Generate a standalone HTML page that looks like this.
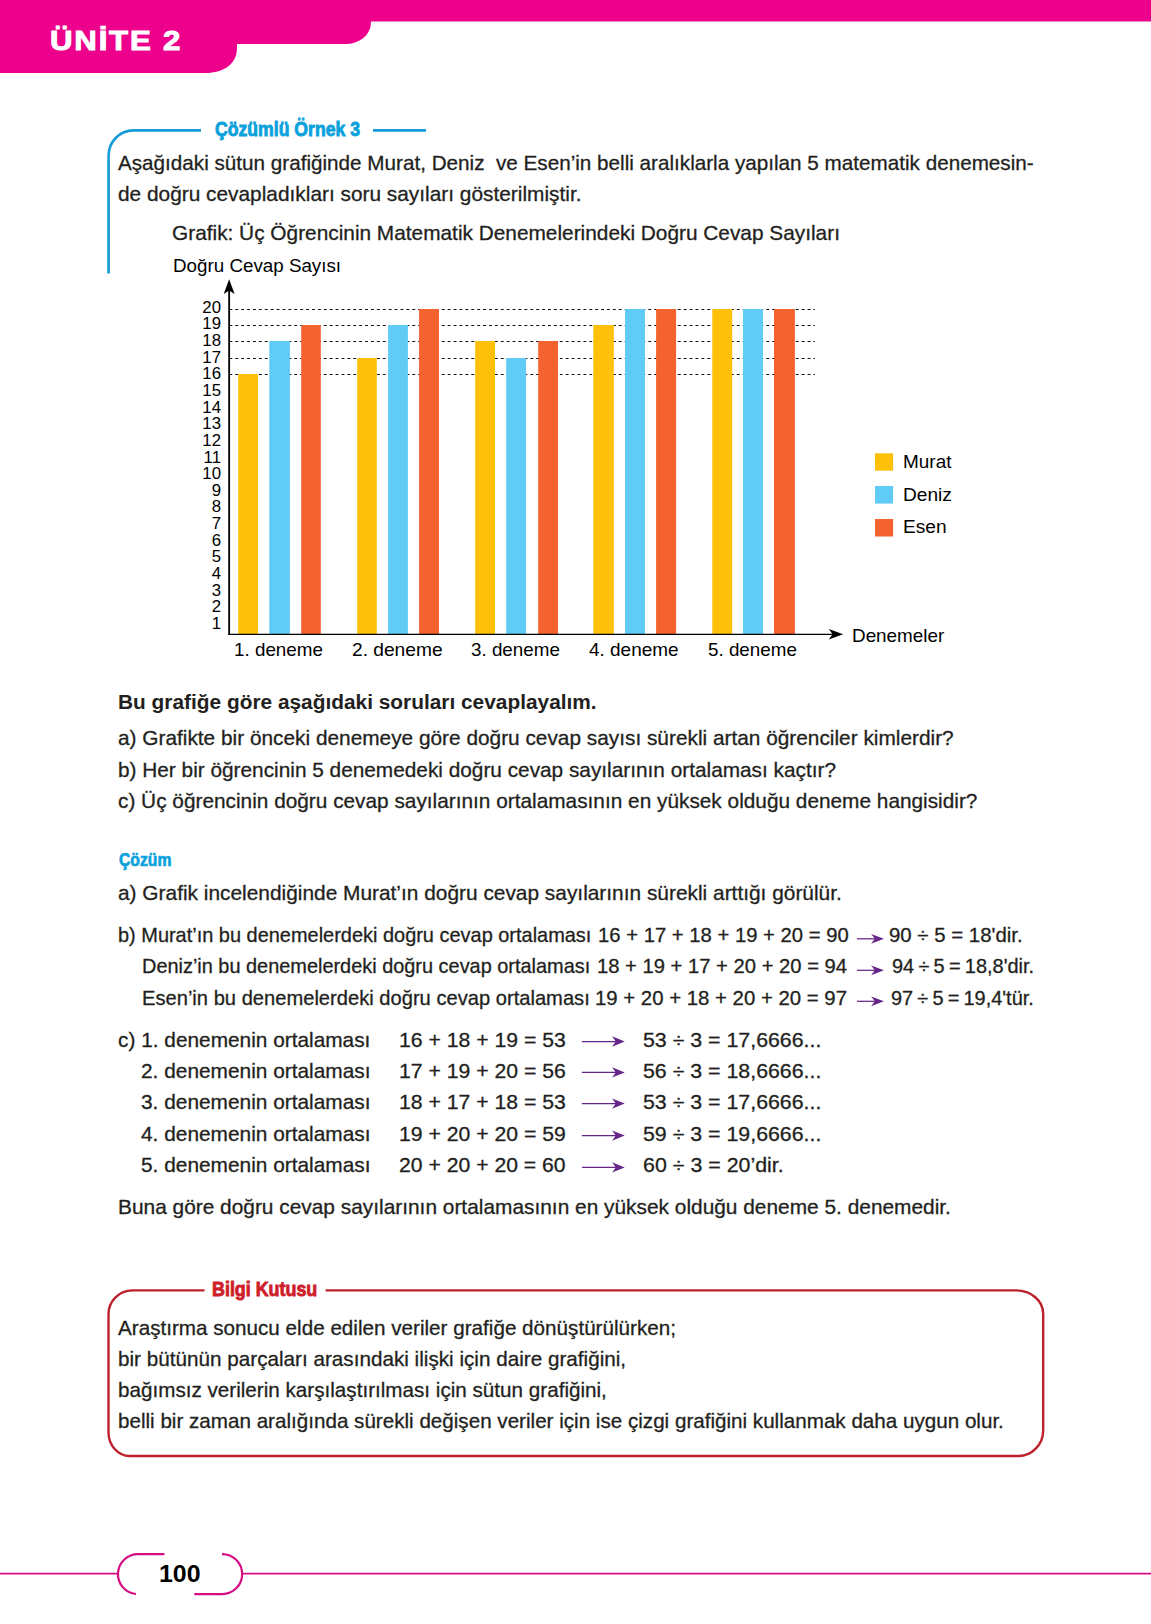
<!DOCTYPE html>
<html lang="tr">
<head>
<meta charset="utf-8">
<title>Ünite 2 - Çözümlü Örnek 3</title>
<style>
html,body{margin:0;padding:0;background:#fff;}
body{font-family:"Liberation Sans",Arial,Helvetica,sans-serif;}
.t{position:absolute;white-space:pre;line-height:1;transform-origin:0 0;margin:0;padding:0;}
body{width:1151px;height:1624px;position:relative;overflow:hidden;color:#231f20;}
#page{position:absolute;left:0;top:0;width:1151px;height:1624px;overflow:hidden;background:#fff;}
svg.art{position:absolute;left:0;top:0;width:1151px;height:1624px;}
.yl{position:absolute;white-space:pre;line-height:1;font-size:16px;color:#000;width:30px;text-align:right;left:190.9px;transform-origin:100% 0;transform:scaleX(1.05);}
</style>
</head>
<body>
<div id="page">
<svg class="art" width="1151" height="1624" viewBox="0 0 1151 1624">
<path d="M0,0 H1151 V21.4 H371 C371,35 360,44 344,44 H237 V48 C237,63 225,73 205,73 H0 Z" fill="#ec008c"/>
<path d="M108.6,273.6 V155.4 A25,25 0 0 1 133.6,130.4 H201" fill="none" stroke="#149bd7" stroke-width="2.6"/>
<path d="M373,130.4 H426" fill="none" stroke="#149bd7" stroke-width="2.6"/>
<path d="M229.4,309.5 H815" stroke="#000" stroke-width="0.95" stroke-dasharray="2.9 3" fill="none"/>
<path d="M229.4,325.5 H815" stroke="#000" stroke-width="0.95" stroke-dasharray="2.9 3" fill="none"/>
<path d="M229.4,341.5 H815" stroke="#000" stroke-width="0.95" stroke-dasharray="2.9 3" fill="none"/>
<path d="M229.4,358.5 H815" stroke="#000" stroke-width="0.95" stroke-dasharray="2.9 3" fill="none"/>
<path d="M229.4,374.5 H815" stroke="#000" stroke-width="0.95" stroke-dasharray="2.9 3" fill="none"/>
<rect x="238.2" y="374.0" width="19.8" height="260.2" fill="#fec008"/>
<rect x="269.3" y="341.0" width="20.6" height="293.2" fill="#60cbf4"/>
<rect x="301.2" y="325.0" width="19.6" height="309.2" fill="#f3622f"/>
<rect x="357.2" y="358.0" width="19.6" height="276.2" fill="#fec008"/>
<rect x="388.1" y="325.0" width="19.8" height="309.2" fill="#60cbf4"/>
<rect x="419.1" y="309.0" width="19.9" height="325.2" fill="#f3622f"/>
<rect x="475.2" y="341.0" width="19.8" height="293.2" fill="#fec008"/>
<rect x="506.2" y="358.0" width="19.8" height="276.2" fill="#60cbf4"/>
<rect x="538.2" y="341.0" width="19.8" height="293.2" fill="#f3622f"/>
<rect x="593.3" y="325.0" width="20.5" height="309.2" fill="#fec008"/>
<rect x="625" y="309.0" width="20.0" height="325.2" fill="#60cbf4"/>
<rect x="656.1" y="309.0" width="20.0" height="325.2" fill="#f3622f"/>
<rect x="712.3" y="309.0" width="19.9" height="325.2" fill="#fec008"/>
<rect x="743" y="309.0" width="20.0" height="325.2" fill="#60cbf4"/>
<rect x="774" y="309.0" width="20.9" height="325.2" fill="#f3622f"/>
<path d="M229.15,290 V634.9" fill="none" stroke="#000" stroke-width="1.8"/>
<path d="M228.15,634.3 H833" fill="none" stroke="#000" stroke-width="1.25"/>
<path d="M229.15,279.3 L234.6,294 L229.15,290.6 L223.7,294 Z" fill="#000"/>
<path d="M843.1,634.3 L828.8,639.6 L832.6,634.3 L828.8,629 Z" fill="#000"/>
<rect x="875" y="453.3" width="18.1" height="17.4" fill="#fec008"/>
<rect x="875" y="486" width="18.1" height="17.6" fill="#60cbf4"/>
<rect x="875" y="519" width="18.1" height="17.5" fill="#f3622f"/>
<path d="M857,938.8 H875.4" stroke="#652589" stroke-width="1.25" fill="none"/><path d="M883.9,938.8 L871.1,933.9 L874.9,938.8 L871.1,943.7 Z" fill="#652589"/>
<path d="M857,970.3 H875.4" stroke="#652589" stroke-width="1.25" fill="none"/><path d="M883.9,970.3 L871.1,965.4 L874.9,970.3 L871.1,975.2 Z" fill="#652589"/>
<path d="M857,1001.3 H875.4" stroke="#652589" stroke-width="1.25" fill="none"/><path d="M883.9,1001.3 L871.1,996.4 L874.9,1001.3 L871.1,1006.2 Z" fill="#652589"/>
<path d="M581.9,1041.5 H616.3" stroke="#652589" stroke-width="1.25" fill="none"/><path d="M624.7,1041.5 L612.1,1036.3 L615.8,1041.5 L612.1,1046.7 Z" fill="#652589"/>
<path d="M581.9,1072.4 H616.3" stroke="#652589" stroke-width="1.25" fill="none"/><path d="M624.7,1072.4 L612.1,1067.2 L615.8,1072.4 L612.1,1077.6 Z" fill="#652589"/>
<path d="M581.9,1103.6 H616.3" stroke="#652589" stroke-width="1.25" fill="none"/><path d="M624.7,1103.6 L612.1,1098.4 L615.8,1103.6 L612.1,1108.8 Z" fill="#652589"/>
<path d="M581.9,1135.6 H616.3" stroke="#652589" stroke-width="1.25" fill="none"/><path d="M624.7,1135.6 L612.1,1130.4 L615.8,1135.6 L612.1,1140.8 Z" fill="#652589"/>
<path d="M581.9,1167.4 H616.3" stroke="#652589" stroke-width="1.25" fill="none"/><path d="M624.7,1167.4 L612.1,1162.2 L615.8,1167.4 L612.1,1172.6 Z" fill="#652589"/>
<path d="M204.5,1290.4 H132.5 A24,23.6 0 0 0 108.5,1314 V1432.3 A21,23.7 0 0 0 129.5,1456 H1018.6 A24.6,25.8 0 0 0 1043.2,1430.2 V1313.8 A27,23.4 0 0 0 1016.2,1290.4 H325.6" fill="none" stroke="#bd222c" stroke-width="2.4"/>
<path d="M0,1573.6 H118.1 M242.6,1573.6 H1151" stroke="#d40d84" stroke-width="1.8" fill="none"/>
<path d="M164.4,1554.1 H138.3 A20.0,20.0 0 0 0 136,1594" stroke="#d40d84" stroke-width="2.2" fill="none"/>
<path d="M222,1554.1 A20.0,20.0 0 0 1 222.4,1594.1 H194.3" stroke="#d40d84" stroke-width="2.2" fill="none"/>
</svg>
<div class="yl" style="top:616px">1</div>
<div class="yl" style="top:599px">2</div>
<div class="yl" style="top:583px">3</div>
<div class="yl" style="top:566px">4</div>
<div class="yl" style="top:549px">5</div>
<div class="yl" style="top:533px">6</div>
<div class="yl" style="top:516px">7</div>
<div class="yl" style="top:499px">8</div>
<div class="yl" style="top:483px">9</div>
<div class="yl" style="top:466px">10</div>
<div class="yl" style="top:450px">11</div>
<div class="yl" style="top:433px">12</div>
<div class="yl" style="top:416px">13</div>
<div class="yl" style="top:400px">14</div>
<div class="yl" style="top:383px">15</div>
<div class="yl" style="top:366px">16</div>
<div class="yl" style="top:350px">17</div>
<div class="yl" style="top:333px">18</div>
<div class="yl" style="top:316px">19</div>
<div class="yl" style="top:300px">20</div>
<div class="t" style="left:50.15px;top:27.00px;font-size:28.0px;color:#ffffff;font-weight:bold;-webkit-text-stroke:1.0px #ffffff;letter-spacing:1.6px;transform:scaleX(1.1144);">ÜNİTE 2</div>
<div class="t" style="left:214.75px;top:120.12px;font-size:19.7px;color:#0aa1dc;font-weight:bold;-webkit-text-stroke:0.85px #0aa1dc;transform:scaleX(0.8957);">Çözümlü Örnek 3</div>
<div class="t" style="left:117.90px;top:153.11px;font-size:20.9px;color:#231f20;-webkit-text-stroke:0.3px #231f20;transform:scaleX(0.9894);">Aşağıdaki sütun grafiğinde Murat, Deniz  ve Esen’in belli aralıklarla yapılan 5 matematik denemesin-</div>
<div class="t" style="left:117.90px;top:183.51px;font-size:20.9px;color:#231f20;-webkit-text-stroke:0.3px #231f20;transform:scaleX(0.9979);">de doğru cevapladıkları soru sayıları gösterilmiştir.</div>
<div class="t" style="left:172.00px;top:222.61px;font-size:20.9px;color:#231f20;-webkit-text-stroke:0.3px #231f20;transform:scaleX(0.9970);">Grafik: Üç Öğrencinin Matematik Denemelerindeki Doğru Cevap Sayıları</div>
<div class="t" style="left:117.90px;top:692.31px;font-size:20.9px;color:#231f20;font-weight:bold;transform:scaleX(0.9982);">Bu grafiğe göre aşağıdaki soruları cevaplayalım.</div>
<div class="t" style="left:117.90px;top:727.81px;font-size:20.9px;color:#231f20;-webkit-text-stroke:0.3px #231f20;transform:scaleX(0.9968);">a) Grafikte bir önceki denemeye göre doğru cevap sayısı sürekli artan öğrenciler kimlerdir?</div>
<div class="t" style="left:117.90px;top:760.01px;font-size:20.9px;color:#231f20;-webkit-text-stroke:0.3px #231f20;transform:scaleX(0.9957);">b) Her bir öğrencinin 5 denemedeki doğru cevap sayılarının ortalaması kaçtır?</div>
<div class="t" style="left:117.90px;top:791.31px;font-size:20.9px;color:#231f20;-webkit-text-stroke:0.3px #231f20;transform:scaleX(0.9961);">c) Üç öğrencinin doğru cevap sayılarının ortalamasının en yüksek olduğu deneme hangisidir?</div>
<div class="t" style="left:118.75px;top:849.75px;font-size:19.2px;color:#0aa1dc;font-weight:bold;-webkit-text-stroke:0.7px #0aa1dc;transform:scaleX(0.8192);">Çözüm</div>
<div class="t" style="left:117.90px;top:882.81px;font-size:20.9px;color:#231f20;-webkit-text-stroke:0.3px #231f20;transform:scaleX(0.9989);">a) Grafik incelendiğinde Murat’ın doğru cevap sayılarının sürekli arttığı görülür.</div>
<div class="t" style="left:117.90px;top:924.51px;font-size:20.9px;color:#231f20;-webkit-text-stroke:0.3px #231f20;transform:scaleX(0.9547);">b) Murat’ın bu denemelerdeki doğru cevap ortalaması</div>
<div class="t" style="left:598.30px;top:924.51px;font-size:20.9px;color:#231f20;-webkit-text-stroke:0.3px #231f20;transform:scaleX(0.9699);">16 + 17 + 18 + 19 + 20 = 90</div>
<div class="t" style="left:889.45px;top:924.51px;font-size:20.9px;color:#231f20;-webkit-text-stroke:0.3px #231f20;transform:scaleX(0.9769);">90 ÷ 5 = 18'dir.</div>
<div class="t" style="left:141.50px;top:955.71px;font-size:20.9px;color:#231f20;-webkit-text-stroke:0.3px #231f20;transform:scaleX(0.9530);">Deniz’in bu denemelerdeki doğru cevap ortalaması</div>
<div class="t" style="left:596.70px;top:955.71px;font-size:20.9px;color:#231f20;-webkit-text-stroke:0.3px #231f20;transform:scaleX(0.9674);">18 + 19 + 17 + 20 + 20 = 94</div>
<div class="t" style="left:891.75px;top:955.71px;font-size:20.9px;color:#231f20;-webkit-text-stroke:0.3px #231f20;word-spacing:-1.374px;transform:scaleX(0.9550);">94 ÷ 5 = 18,8'dir.</div>
<div class="t" style="left:141.50px;top:988.01px;font-size:20.9px;color:#231f20;-webkit-text-stroke:0.3px #231f20;transform:scaleX(0.9639);">Esen’in bu denemelerdeki doğru cevap ortalaması</div>
<div class="t" style="left:595.40px;top:988.01px;font-size:20.9px;color:#231f20;-webkit-text-stroke:0.3px #231f20;transform:scaleX(0.9751);">19 + 20 + 18 + 20 + 20 = 97</div>
<div class="t" style="left:890.95px;top:988.01px;font-size:20.9px;color:#231f20;-webkit-text-stroke:0.3px #231f20;word-spacing:-1.466px;transform:scaleX(0.9550);">97 ÷ 5 = 19,4'tür.</div>
<div class="t" style="left:117.90px;top:1029.91px;font-size:20.9px;color:#231f20;-webkit-text-stroke:0.3px #231f20;transform:scaleX(0.9970);">c) 1. denemenin ortalaması</div>
<div class="t" style="left:140.70px;top:1061.21px;font-size:20.9px;color:#231f20;-webkit-text-stroke:0.3px #231f20;transform:scaleX(0.9982);">2. denemenin ortalaması</div>
<div class="t" style="left:140.70px;top:1091.61px;font-size:20.9px;color:#231f20;-webkit-text-stroke:0.3px #231f20;transform:scaleX(0.9982);">3. denemenin ortalaması</div>
<div class="t" style="left:140.70px;top:1124.31px;font-size:20.9px;color:#231f20;-webkit-text-stroke:0.3px #231f20;transform:scaleX(0.9982);">4. denemenin ortalaması</div>
<div class="t" style="left:140.70px;top:1155.01px;font-size:20.9px;color:#231f20;-webkit-text-stroke:0.3px #231f20;transform:scaleX(0.9982);">5. denemenin ortalaması</div>
<div class="t" style="left:399.00px;top:1029.91px;font-size:20.9px;color:#231f20;-webkit-text-stroke:0.3px #231f20;transform:scaleX(1.0153);">16 + 18 + 19 = 53</div>
<div class="t" style="left:399.00px;top:1061.21px;font-size:20.9px;color:#231f20;-webkit-text-stroke:0.3px #231f20;transform:scaleX(1.0153);">17 + 19 + 20 = 56</div>
<div class="t" style="left:399.00px;top:1091.61px;font-size:20.9px;color:#231f20;-webkit-text-stroke:0.3px #231f20;transform:scaleX(1.0153);">18 + 17 + 18 = 53</div>
<div class="t" style="left:399.00px;top:1124.31px;font-size:20.9px;color:#231f20;-webkit-text-stroke:0.3px #231f20;transform:scaleX(1.0153);">19 + 20 + 20 = 59</div>
<div class="t" style="left:399.00px;top:1155.01px;font-size:20.9px;color:#231f20;-webkit-text-stroke:0.3px #231f20;transform:scaleX(1.0137);">20 + 20 + 20 = 60</div>
<div class="t" style="left:643.05px;top:1029.91px;font-size:20.9px;color:#231f20;-webkit-text-stroke:0.3px #231f20;transform:scaleX(1.0212);">53 ÷ 3 = 17,6666...</div>
<div class="t" style="left:643.05px;top:1061.21px;font-size:20.9px;color:#231f20;-webkit-text-stroke:0.3px #231f20;transform:scaleX(1.0212);">56 ÷ 3 = 18,6666...</div>
<div class="t" style="left:643.05px;top:1091.61px;font-size:20.9px;color:#231f20;-webkit-text-stroke:0.3px #231f20;transform:scaleX(1.0212);">53 ÷ 3 = 17,6666...</div>
<div class="t" style="left:643.05px;top:1124.31px;font-size:20.9px;color:#231f20;-webkit-text-stroke:0.3px #231f20;transform:scaleX(1.0212);">59 ÷ 3 = 19,6666...</div>
<div class="t" style="left:642.80px;top:1155.01px;font-size:20.9px;color:#231f20;-webkit-text-stroke:0.3px #231f20;transform:scaleX(1.0237);">60 ÷ 3 = 20’dir.</div>
<div class="t" style="left:117.90px;top:1196.51px;font-size:20.9px;color:#231f20;-webkit-text-stroke:0.3px #231f20;transform:scaleX(0.9989);">Buna göre doğru cevap sayılarının ortalamasının en yüksek olduğu deneme 5. denemedir.</div>
<div class="t" style="left:212.05px;top:1279.96px;font-size:19.3px;color:#cf202a;font-weight:bold;-webkit-text-stroke:0.85px #cf202a;transform:scaleX(0.9272);">Bilgi Kutusu</div>
<div class="t" style="left:117.90px;top:1318.11px;font-size:20.9px;color:#231f20;-webkit-text-stroke:0.3px #231f20;transform:scaleX(0.9887);">Araştırma sonucu elde edilen veriler grafiğe dönüştürülürken;</div>
<div class="t" style="left:117.90px;top:1349.41px;font-size:20.9px;color:#231f20;-webkit-text-stroke:0.3px #231f20;transform:scaleX(0.9900);">bir bütünün parçaları arasındaki ilişki için daire grafiğini,</div>
<div class="t" style="left:117.90px;top:1379.91px;font-size:20.9px;color:#231f20;-webkit-text-stroke:0.3px #231f20;transform:scaleX(0.9884);">bağımsız verilerin karşılaştırılması için sütun grafiğini,</div>
<div class="t" style="left:117.90px;top:1411.21px;font-size:20.9px;color:#231f20;-webkit-text-stroke:0.3px #231f20;transform:scaleX(0.9869);">belli bir zaman aralığında sürekli değişen veriler için ise çizgi grafiğini kullanmak daha uygun olur.</div>
<div class="t" style="left:159.40px;top:1562.48px;font-size:24.6px;color:#000;font-weight:bold;transform:scaleX(1.0117);">100</div>
<div class="t" style="left:172.90px;top:257.21px;font-size:18.3px;color:#000;transform:scaleX(1.0275);">Doğru Cevap Sayısı</div>
<div class="t" style="left:234.00px;top:641.14px;font-size:18.5px;color:#000;transform:scaleX(1.0173);">1. deneme</div>
<div class="t" style="left:351.60px;top:641.14px;font-size:18.5px;color:#000;transform:scaleX(1.0357);">2. deneme</div>
<div class="t" style="left:470.85px;top:641.14px;font-size:18.5px;color:#000;transform:scaleX(1.0163);">3. deneme</div>
<div class="t" style="left:588.80px;top:641.14px;font-size:18.5px;color:#000;transform:scaleX(1.0244);">4. deneme</div>
<div class="t" style="left:708.05px;top:641.14px;font-size:18.5px;color:#000;transform:scaleX(1.0163);">5. deneme</div>
<div class="t" style="left:851.70px;top:627.22px;font-size:18.4px;color:#000;transform:scaleX(1.0261);">Denemeler</div>
<div class="t" style="left:903.10px;top:452.80px;font-size:18.9px;color:#000;transform:scaleX(1.0032);">Murat</div>
<div class="t" style="left:903.10px;top:485.70px;font-size:18.9px;color:#000;transform:scaleX(1.0098);">Deniz</div>
<div class="t" style="left:903.10px;top:518.20px;font-size:18.9px;color:#000;transform:scaleX(1.0112);">Esen</div>
</div>
</body>
</html>
